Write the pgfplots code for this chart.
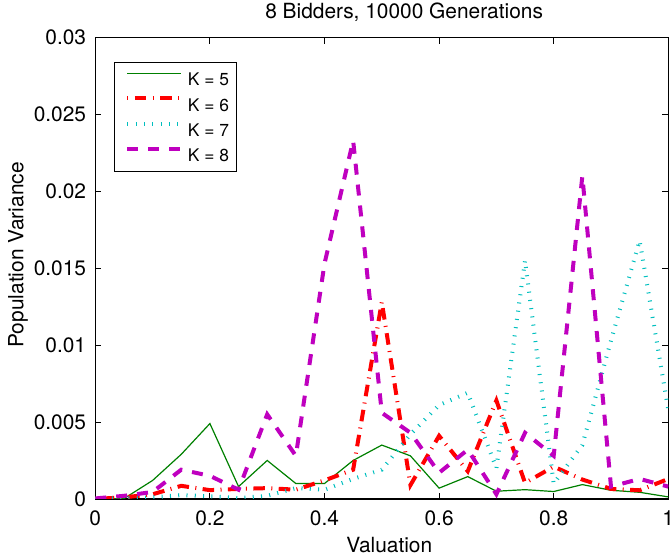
\documentclass[border=0pt]{standalone}
\usepackage{fontspec}
\setmainfont{TeX Gyre Heros}
\usepackage{pgfplots}
\pgfplotsset{compat=1.18}
\definecolor{mgreen}{rgb}{0,0.5,0}
\definecolor{mcyan}{rgb}{0,0.75,0.75}
\definecolor{mmag}{rgb}{0.75,0,0.75}
\newcommand\fs{\fontsize{10.45}{12.5}\selectfont}
\begin{document}
\begin{tikzpicture}
\begin{axis}[name=ax, scale only axis, width=286.5pt, height=230.65pt,
  xmin=0, xmax=1, ymin=0, ymax=0.03,
  xtick={0,0.2,0.4,0.6,0.8,1}, xticklabels={0,0.2,0.4,0.6,0.8,1},
  ytick={0,0.005,0.01,0.015,0.02,0.025,0.03},
  yticklabels={0,0.005,0.01,0.015,0.02,0.025,0.03},
  scaled ticks=false,
  tick align=inside, major tick length=3pt,
  tick style={black, line width=0.5pt},
  axis line style={line width=0.6pt},
  ticklabel style={font=\fs},
  xticklabel style={anchor=base, inner sep=0pt, yshift=-13.3pt},
  yticklabel style={anchor=east, inner sep=0pt, xshift=-4.4pt},
  title={8 Bidders, 10000 Generations},
  title style={at={(0.539,1)}, anchor=base, yshift=3.4pt, inner sep=0pt, font=\fs},
  xlabel={Valuation},
  xlabel style={at={(0.513,0)}, anchor=base, yshift=-27pt, inner sep=0pt, font=\fs},
  ylabel={Population Variance},
  every axis y label/.style={at={(0,0.529)}, xshift=-36pt, rotate=90, anchor=base, inner sep=0pt, font=\fs},
  legend cell align=left,
  legend style={at={(0,1)}, anchor=north west, xshift=9.5pt, yshift=-12.35pt,
    draw=black, line width=0.5pt, font=\fontsize{8.7}{10}\selectfont,
    inner xsep=3.6pt, inner ysep=4.85pt, row sep=5.35pt, column sep=2.6pt,
    nodes={inner sep=0pt, text height=6.3pt, text depth=0pt}},
  legend image code/.code={\path (0pt,0pt); \draw[#1] (1.75pt,3.15pt) -- (28.4pt,3.15pt);},
]
\addplot[color=mgreen, draw=mgreen, line width=0.6pt, solid] coordinates {
(0,0) (0.05,0.00002) (0.1,0.0012) (0.15,0.0029) (0.2,0.0049) (0.25,0.0008)
(0.3,0.0025) (0.35,0.001) (0.4,0.001) (0.45,0.0025) (0.5,0.0035) (0.55,0.0028)
(0.6,0.0007) (0.65,0.00145) (0.7,0.0005) (0.75,0.0006) (0.8,0.00048) (0.85,0.00093)
(0.9,0.00056) (0.95,0.00043) (1,0.00013)};
\addlegendentry{K = 5}
\addplot[color=red, draw=red, line width=2pt, dash pattern=on 0.5pt off 3.2pt on 5.8pt off 3.2pt] coordinates {
(0,0) (0.05,0.0001) (0.1,0.0003) (0.15,0.00085) (0.2,0.00057) (0.25,0.00065)
(0.3,0.0007) (0.35,0.0006) (0.4,0.0012) (0.45,0.0019) (0.5,0.0128) (0.55,0.0009)
(0.6,0.0041) (0.65,0.0018) (0.7,0.0064) (0.75,0.00104) (0.8,0.0021) (0.85,0.00126)
(0.9,0.00065) (0.95,0.00056) (1,0.0013)};
\addlegendentry{K = 6}
\addplot[color=mcyan, draw=mcyan, line width=2pt, dash pattern=on 0.5pt off 3.65pt] coordinates {
(0,0) (0.05,0.00005) (0.1,0.0001) (0.15,0.00025) (0.2,0.00017) (0.25,0.00005)
(0.3,0.0002) (0.35,0.0007) (0.4,0.0006) (0.45,0.0013) (0.5,0.0019) (0.55,0.0042)
(0.6,0.0061) (0.65,0.0069) (0.7,0.002) (0.75,0.0155) (0.8,0.001) (0.85,0.0035)
(0.9,0.0103) (0.95,0.0168) (1,0.0058)};
\addlegendentry{K = 7}
\addplot[color=mmag, draw=mmag, line width=2pt, dash pattern=on 5.5pt off 5pt] coordinates {
(0,0.00003) (0.05,0.0002) (0.1,0.00045) (0.15,0.0019) (0.2,0.0015) (0.25,0.0006)
(0.3,0.0055) (0.35,0.0028) (0.4,0.0153) (0.45,0.0233) (0.5,0.0056) (0.55,0.0043)
(0.6,0.0017) (0.65,0.0032) (0.7,0.0003) (0.75,0.0043) (0.8,0.0028) (0.85,0.021)
(0.9,0.0008) (0.95,0.0013) (1,0.0008)};
\addlegendentry{K = 8}
\end{axis}
\pgfresetboundingbox
\path[use as bounding box] ([xshift=-47.65pt,yshift=-29.35pt]ax.south west) rectangle ([xshift=0.85pt,yshift=18.8pt]ax.north east);
\end{tikzpicture}
\end{document}
